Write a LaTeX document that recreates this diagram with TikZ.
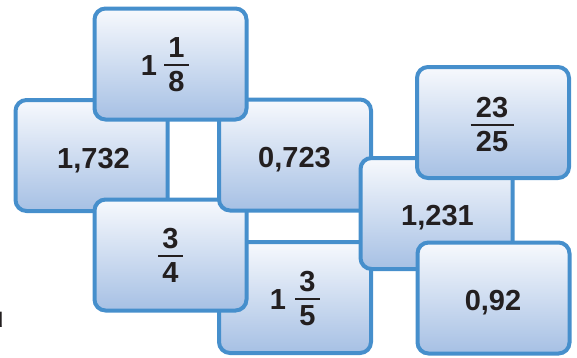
\documentclass[tikz,border=0pt]{standalone}
\usepackage{fontspec}
\setmainfont{Liberation Sans}
\definecolor{cardborder}{RGB}{70,143,204}
\definecolor{cardtop}{RGB}{247,249,253}
\definecolor{cardbottom}{RGB}{166,192,228}
\definecolor{ink}{RGB}{35,31,32}
\tikzset{
  card/.style={draw=cardborder, line width=4pt, rounded corners=11pt,
    top color=cardtop, bottom color=cardbottom,
    minimum width=152pt, minimum height=111pt, inner sep=0pt},
  num/.style={font=\fontsize{29}{34}\selectfont\bfseries, text=ink, inner sep=0pt},
  bar/.style={draw=ink, line width=2.2pt},
}
\begin{document}
\begin{tikzpicture}[x=1pt,y=-1pt]
\useasboundingbox (0,0) rectangle (577,357);
\clip (0,0) rectangle (577,357);
% B
\node[card] (B) at (91.5,155.5) {};
\node[num,anchor=base] (Bt) at (93.5,168) {1,732};
% G
\node[card] (G) at (295,297.5) {};
\node[num] (G1) at (278,300) {1};
\node[num] (Gn) at (307.5,282) {3};
\draw[bar] (295,299) -- (320,299);
\node[num] (Gd) at (307.5,316) {5};
% F
\node[card] (F) at (170.5,255) {};
\node[num] (Fn) at (170.5,239) {3};
\draw[bar] (158,256) -- (183,256);
\node[num] (Fd) at (170.5,273) {4};
% C
\node[card] (C) at (295,155) {};
\node[num,anchor=base] (Ct) at (294.5,167) {0,723};
% A
\node[card] (A) at (170.5,64) {};
\node[num] (A1) at (149,66) {1};
\node[num] (An) at (176.5,48) {1};
\draw[bar] (164,65) -- (189,65);
\node[num] (Ad) at (176.5,82) {8};
% E
\node[card] (E) at (436.5,213.5) {};
\node[num,anchor=base] (Et) at (437.5,225) {1,231};
% D
\node[card] (D) at (493,122.5) {};
\node[num] (Dn) at (492,108) {23};
\draw[bar] (470.5,125) -- (513.5,125);
\node[num] (Dd) at (492,142) {25};
% H
\node[card] (H) at (493.5,298) {};
\node[num,anchor=base] (Ht) at (493,310) {0,92};
% cut-off letter at the left edge (cut off in the reference too)
\node[num,anchor=base east] (U) at (4,327) {u};
\end{tikzpicture}
\end{document}
